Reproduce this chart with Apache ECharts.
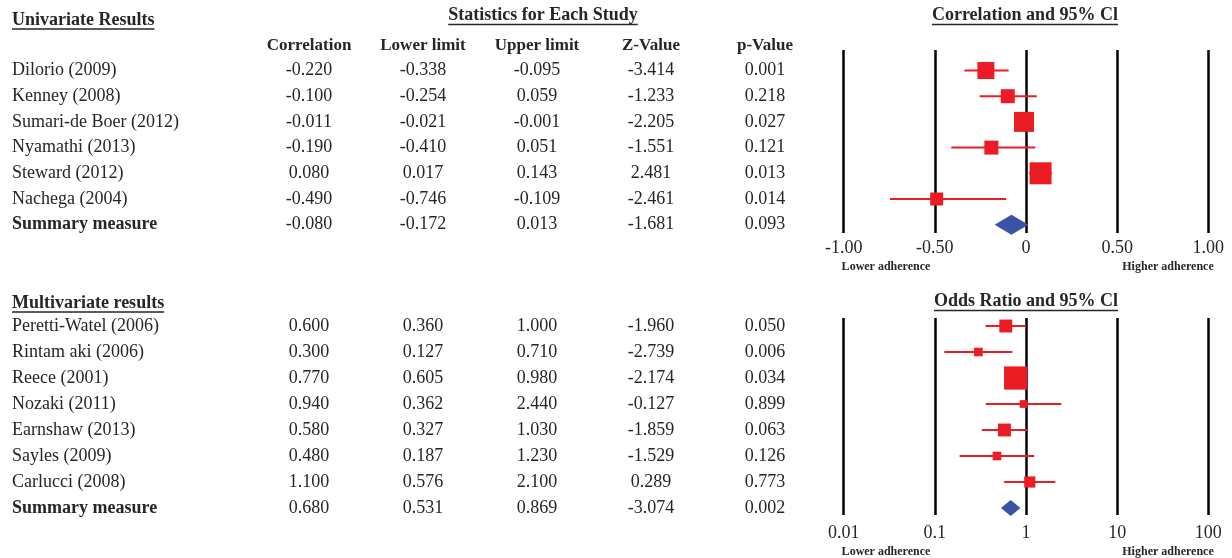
<!DOCTYPE html>
<html><head><meta charset="utf-8">
<script src="https://cdn.jsdelivr.net/npm/echarts@6/dist/echarts.min.js"></script>
<style>html,body{margin:0;padding:0;background:#fff}#c{width:1232px;height:558px}</style>
</head><body><div id="c"></div>
<script>
// ---------- data ----------
const uniStudies = ['Dilorio (2009)','Kenney (2008)','Sumari-de Boer (2012)','Nyamathi (2013)','Steward (2012)','Nachega (2004)','Summary measure'];
const uniCorr  = [-0.220,-0.100,-0.011,-0.190, 0.080,-0.490,-0.080];
const uniLower = [-0.338,-0.254,-0.021,-0.410, 0.017,-0.746,-0.172];
const uniUpper = [-0.095, 0.059,-0.001, 0.051, 0.143,-0.109, 0.013];
const uniZ     = [-3.414,-1.233,-2.205,-1.551, 2.481,-2.461,-1.681];
const uniP     = [ 0.001, 0.218, 0.027, 0.121, 0.013, 0.014, 0.093];
const uniWeight = [17,14,20,14,22,13];           // relative study weight (%)

const multiStudies = ['Peretti-Watel (2006)','Rintam aki (2006)','Reece (2001)','Nozaki (2011)','Earnshaw (2013)','Sayles (2009)','Carlucci (2008)','Summary measure'];
const multiOR    = [0.600,0.300,0.770,0.940,0.580,0.480,1.100,0.680];
const multiLower = [0.360,0.127,0.605,0.362,0.327,0.187,0.576,0.531];
const multiUpper = [1.000,0.710,0.980,2.440,1.030,1.230,2.100,0.869];
const multiZ     = [-1.960,-2.739,-2.174,-0.127,-1.859,-1.529,0.289,-3.074];
const multiP     = [0.050,0.006,0.034,0.899,0.063,0.126,0.773,0.002];
const multiWeight = [15,10,27,9,15,10,13];        // relative study weight (%)

const statColumns = ['Correlation','Lower limit','Upper limit','Z-Value','p-Value'];
const corrTicks = ['-1.00','-0.50','0','0.50','1.00'];
const oddsTicks = ['0.01','0.1','1','10','100'];

// ---------- styling ----------
const SERIF = '"Liberation Serif","Times New Roman",serif';
const INK = '#262626';
const RED = '#EC1C24';
const BLUE = '#3A53A4';

function measure(text, font){
  const ctx = document.createElement('canvas').getContext('2d');
  ctx.font = font; return ctx.measureText(text).width;
}
function ulTitle(text, x, y, anchor){
  const font = 'bold 18px ' + SERIF;
  const w = measure(text, font);
  const x0 = anchor === 'center' ? x - w/2 : x;
  return [
    {type:'text', x:x0, y:y, style:{text:text, font:font, fill:INK, textAlign:'left', textVerticalAlign:'middle', align:'left', verticalAlign:'middle'}},
    {type:'line', shape:{x1:x0, y1:y+9, x2:x0+w, y2:y+9}, style:{stroke:INK, lineWidth:1.3}}
  ];
}
function plainText(text, x, y, font){
  return {type:'text', x:x, y:y, style:{text:text, font:font, fill:INK, textAlign:'center', textVerticalAlign:'middle', align:'center', verticalAlign:'middle'}};
}

// table cells
function tableSeries(gridIdx, cols){
  const n = cols[0].length;
  const data = [];
  for (let c = 0; c < cols.length; c++) for (let r = 0; r < n; r++) data.push([c, r]);
  return {
    type:'custom', xAxisIndex:gridIdx, yAxisIndex:gridIdx, silent:true, data:data,
    renderItem:function(params, api){
      const c = api.value(0), r = api.value(1);
      const p = api.coord([c, r]);
      return {type:'text', x:p[0], y:p[1], style:{text: cols[c][r].toFixed(3), font:'18px ' + SERIF, fill:INK,
        textAlign:'center', textVerticalAlign:'middle', align:'center', verticalAlign:'middle'}};
    }
  };
}
// study squares + CI lines
function studySeries(gridIdx, est, lo, hi, w, scale){
  const data = w.map((wt, i) => [est[i], lo[i], hi[i], i, wt]);
  return {
    type:'custom', xAxisIndex:gridIdx, yAxisIndex:gridIdx, silent:true, data:data, encode:{x:[0,1,2], y:3},
    renderItem:function(params, api){
      const y = api.value(3);
      const p = api.coord([api.value(0), y]);
      const a = api.coord([api.value(1), y]);
      const b = api.coord([api.value(2), y]);
      const s = api.value(4) * scale;
      return {type:'group', children:[
        {type:'line', shape:{x1:a[0], y1:a[1], x2:b[0], y2:b[1]}, style:{stroke:RED, lineWidth:2}},
        {type:'rect', shape:{x:p[0]-s/2, y:p[1]-s/2, width:s, height:s}, style:{fill:RED}}
      ]};
    }
  };
}
function summarySeries(gridIdx, est, lo, hi, row, half){
  return {
    type:'custom', xAxisIndex:gridIdx, yAxisIndex:gridIdx, silent:true, data:[[est, lo, hi, row]], encode:{x:[0,1,2], y:3},
    renderItem:function(params, api){
      const y = api.value(3);
      const p = api.coord([api.value(0), y]);
      const a = api.coord([api.value(1), y]);
      const b = api.coord([api.value(2), y]);
      return {type:'polygon', shape:{points:[[a[0],a[1]],[p[0],p[1]-half],[b[0],b[1]],[p[0],p[1]+half]]}, style:{fill:BLUE}};
    }
  };
}

const nameLabel = {
  show:true, interval:0, align:'left', margin:240, fontFamily:SERIF, fontSize:18, color:INK,
  formatter: v => v === 'Summary measure' ? '{b|' + v + '}' : v,
  rich:{b:{fontFamily:SERIF, fontSize:18, fontWeight:'bold', color:INK}}
};

const chart = echarts.init(document.getElementById('c'));
const nU = uniStudies.length - 1, nM = multiStudies.length - 1;
chart.setOption({
  animation:false,
  backgroundColor:'#fff',
  grid:[
    {left:252, top:57.65, width:570, height:179.9},   // 0 top table
    {left:843.7, top:50, width:364.6, height:183},     // 1 top forest
    {left:252, top:313, width:570, height:208},        // 2 bottom table
    {left:843.7, top:318, width:364.6, height:197}     // 3 bottom forest
  ],
  xAxis:[
    {gridIndex:0, type:'category', data:statColumns, position:'top', boundaryGap:true,
     axisLine:{show:false}, axisTick:{show:false}, splitLine:{show:false},
     axisLabel:{interval:0, margin:4, fontFamily:SERIF, fontSize:17, fontWeight:'bold', color:INK}},
    {gridIndex:1, type:'value', min:-1, max:1, interval:0.5,
     axisLine:{show:false}, axisTick:{show:false},
     splitLine:{show:true, lineStyle:{color:'#000', width:2.5}},
     axisLabel:{margin:6.5, fontFamily:SERIF, fontSize:18, color:INK,
       formatter: v => corrTicks[Math.round((v + 1) / 0.5)]}},
    {gridIndex:2, type:'category', data:statColumns, boundaryGap:true, show:false},
    {gridIndex:3, type:'log', logBase:10, min:0.01, max:100,
     axisLine:{show:false}, axisTick:{show:false}, minorSplitLine:{show:false},
     splitLine:{show:true, lineStyle:{color:'#000', width:2.5}},
     axisLabel:{margin:9.5, fontFamily:SERIF, fontSize:18, color:INK,
       formatter: v => oddsTicks[Math.round(Math.log10(v) + 2)]}}
  ],
  yAxis:[
    {gridIndex:0, type:'category', data:uniStudies, inverse:true, boundaryGap:true,
     axisLine:{show:false}, axisTick:{show:false}, splitLine:{show:false}, axisLabel:nameLabel},
    {gridIndex:1, type:'value', min:-0.798, max:6.323, inverse:true, show:false},
    {gridIndex:2, type:'category', data:multiStudies, inverse:true, boundaryGap:true,
     axisLine:{show:false}, axisTick:{show:false}, splitLine:{show:false}, axisLabel:nameLabel},
    {gridIndex:3, type:'value', min:-0.3077, max:7.269, inverse:true, show:false}
  ],
  series:[
    tableSeries(0, [uniCorr, uniLower, uniUpper, uniZ, uniP]),
    studySeries(1, uniCorr, uniLower, uniUpper, uniWeight, 1.0),
    summarySeries(1, uniCorr[nU], uniLower[nU], uniUpper[nU], nU, 10),
    tableSeries(2, [multiOR, multiLower, multiUpper, multiZ, multiP]),
    studySeries(3, multiOR, multiLower, multiUpper, multiWeight, 0.86),
    summarySeries(3, multiOR[nM], multiLower[nM], multiUpper[nM], nM, 8)
  ],
  graphic:[].concat(
    ulTitle('Univariate Results', 12, 20, 'left'),
    ulTitle('Statistics for Each Study', 543, 15.5, 'center'),
    ulTitle('Correlation and 95% Cl', 1025, 15.5, 'center'),
    ulTitle('Multivariate results', 12, 303, 'left'),
    ulTitle('Odds Ratio and 95% Cl', 1026, 301.5, 'center'),
    [
      plainText('Lower adherence', 886, 266.5, 'bold 12px ' + SERIF),
      plainText('Higher adherence', 1168, 266.5, 'bold 12px ' + SERIF),
      plainText('Lower adherence', 886, 551.5, 'bold 12px ' + SERIF),
      plainText('Higher adherence', 1168, 551.5, 'bold 12px ' + SERIF)
    ]
  )
});
</script>
</body></html>
